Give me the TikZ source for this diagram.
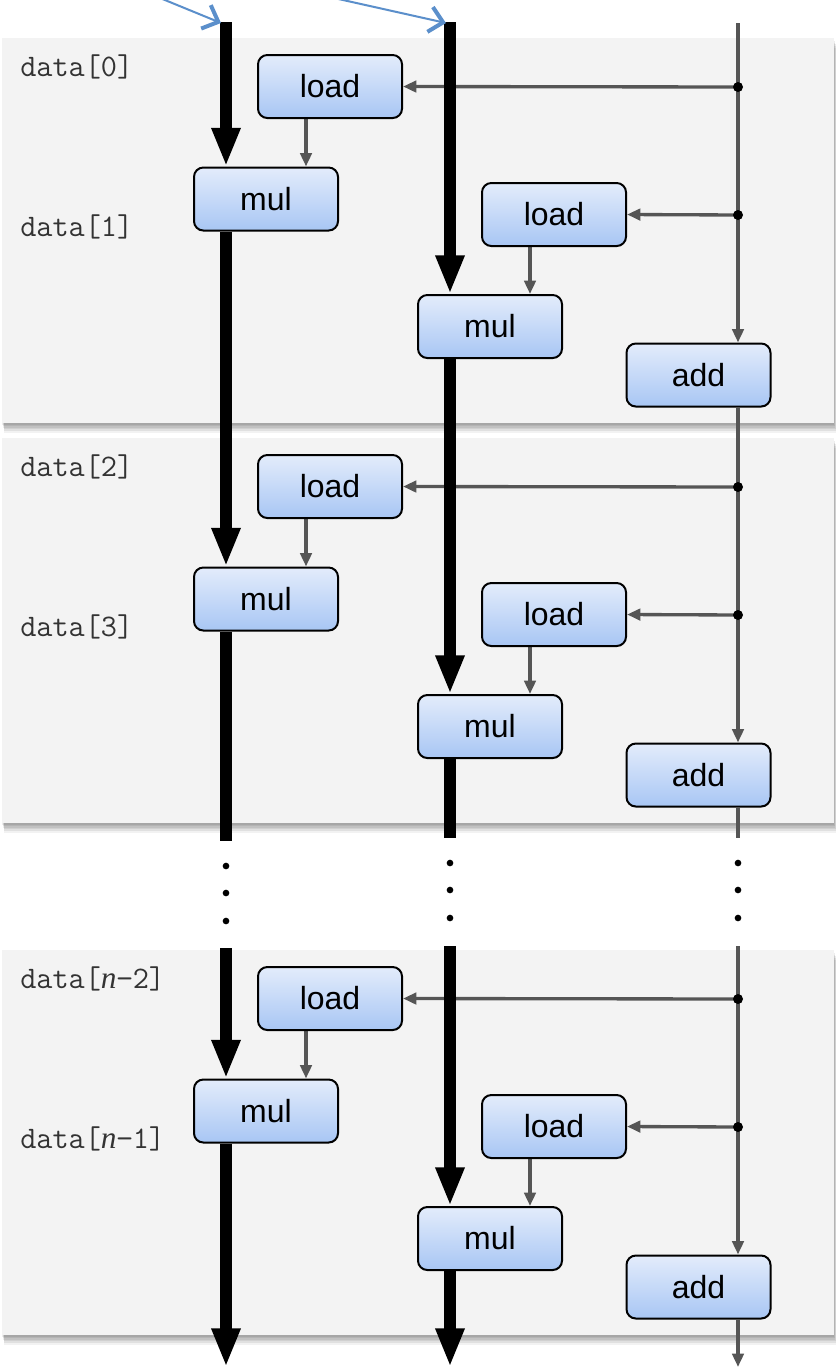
\documentclass[tikz,border=0pt]{standalone}
\usepackage{fontspec}
\setmainfont{Liberation Sans}
\newfontfamily\serifit{Liberation Serif}
\usetikzlibrary{arrows.meta}
\pgfdeclarelayer{bg}
\pgfdeclarelayer{thin}
\pgfdeclarelayer{thick}
\pgfsetlayers{bg,thin,thick,main}
\definecolor{panelbg}{HTML}{F3F3F3}
\definecolor{boxtop}{HTML}{E3ECFB}
\definecolor{boxbot}{HTML}{A8C6F4}
\definecolor{linegray}{HTML}{555555}
\definecolor{bluec}{HTML}{5B8FCB}
\definecolor{labelgray}{HTML}{333333}
\newcommand\varnn{{\serifit\itshape n}}
\begin{document}
\begin{tikzpicture}[x=0.75pt,y=-0.75pt,
  panel/.style={rectangle, inner sep=0pt, minimum width=624pt, minimum height=288.75pt, fill=panelbg,
    preaction={fill=black,opacity=0.07,transform canvas={shift={(0.3pt,-1.2pt)}}},
    preaction={fill=black,opacity=0.07,transform canvas={shift={(0.6pt,-2.4pt)}}},
    preaction={fill=black,opacity=0.07,transform canvas={shift={(0.9pt,-3.6pt)}}},
    preaction={fill=black,opacity=0.07,transform canvas={shift={(1.2pt,-4.8pt)}}},
    preaction={fill=black,opacity=0.07,transform canvas={shift={(1.5pt,-6pt)}}},
    preaction={fill=black,opacity=0.05,transform canvas={shift={(1.8pt,-7.2pt)}}}},
  opbox/.style={draw=black, line width=1.5pt, rounded corners=7pt, top color=boxtop, bottom color=boxbot,
    minimum width=108pt, minimum height=47.25pt, inner sep=0pt, font=\fontsize{24}{28}\selectfont},
  datalabel/.style={font=\ttfamily\fontsize{23.5}{28}\selectfont, text=labelgray, anchor=base west, inner sep=0pt},
  thickline/.style={draw=black, line width=9pt},
  thickarr/.style={thickline, -{Triangle[width=20pt,length=29pt]}},
  graylink/.style={draw=linegray, line width=2.5pt},
  grayarr/.style={graylink, -{Triangle[width=8.5pt,length=10pt]}},
  junc/.style={circle, fill=black, inner sep=0pt, minimum size=7.5pt},
  gapdot/.style={circle, fill=black, inner sep=0pt, minimum size=5pt},
  bluearr/.style={draw=bluec, line width=1.5pt, -{Straight Barb[length=10pt,width=19pt,line width=3pt]}}
]
\useasboundingbox (0,0) rectangle (836,1372);

% column x positions
\coordinate (c1) at (226,0);
\coordinate (c2) at (450,0);
\coordinate (c3) at (738,0);
\coordinate (xa) at (306,0);
\coordinate (xb) at (530,0);

% panels
\begin{pgfonlayer}{bg}
\fill[white] (0,0) rectangle (836,1372);
\node[panel] (p1) at (418,230.5) {};
\node[panel] (p2) at (418,630.5) {};
\node[panel] (p3) at (418,1142.5) {};
\end{pgfonlayer}

% boxes and labels
\foreach \i/\o/\la/\lb in {1/0/0/1, 2/400/2/3, 3/912/{\varnn{}−2}/{\varnn{}−1}}{
  \node[opbox] (la\i) at (330,86.5+\o) {load};
  \node[opbox] (ma\i) at (266,199+\o) {mul};
  \node[opbox] (lb\i) at (554,214.5+\o) {load};
  \node[opbox] (mb\i) at (490,326.5+\o) {mul};
  \node[opbox] (ad\i) at (698.5,375+\o) {add};
  \node[datalabel] (da\i) at (20,76+\o) {data[\la]};
  \node[datalabel] (db\i) at (20,236+\o) {data[\lb]};
  \node[junc] (ja\i) at (738,87+\o) {};
  \node[junc] (jb\i) at (738,215+\o) {};
  \begin{pgfonlayer}{thin}
    \draw[grayarr] (ja\i.center) -- (la\i.east);
    \draw[grayarr] (jb\i.center) -- (lb\i.east);
    \draw[grayarr] (la\i.south -| xa) -- (ma\i.north -| xa);
    \draw[grayarr] (lb\i.south -| xb) -- (mb\i.north -| xb);
  \end{pgfonlayer}
}

% free ends
\coordinate (c1top) at (226,22);
\coordinate (c2top) at (450,22);
\coordinate (c3top) at (738,23);
\coordinate (c1gA) at (226,841);
\coordinate (c2gA) at (450,838);
\coordinate (c3gA) at (738,838);
\coordinate (c1gB) at (226,948);
\coordinate (c2gB) at (450,946);
\coordinate (c3gB) at (738,946);
\coordinate (c1end) at (226,1367);
\coordinate (c2end) at (450,1367);
\coordinate (c3end) at (738,1367);

\begin{pgfonlayer}{thick}
\draw[thickarr] (c1top) -- (ma1.north -| c1);
\draw[thickarr] (ma1.south -| c1) -- (ma2.north -| c1);
\draw[thickline] (ma2.south -| c1) -- (c1gA);
\draw[thickarr] (c1gB) -- (ma3.north -| c1);
\draw[thickarr] (ma3.south -| c1) -- (c1end);
\draw[thickarr] (c2top) -- (mb1.north -| c2);
\draw[thickarr] (mb1.south -| c2) -- (mb2.north -| c2);
\draw[thickline] (mb2.south -| c2) -- (c2gA);
\draw[thickarr] (c2gB) -- (mb3.north -| c2);
\draw[thickarr] (mb3.south -| c2) -- (c2end);
\end{pgfonlayer}

\begin{pgfonlayer}{thin}
\draw[grayarr] (c3top) -- (ad1.north -| c3);
\draw[grayarr] (ad1.south -| c3) -- (ad2.north -| c3);
\draw[graylink] (ad2.south -| c3) -- (c3gA);
\draw[grayarr] (c3gB) -- (ad3.north -| c3);
\draw[grayarr] (ad3.south -| c3) -- (c3end);
\end{pgfonlayer}

% gap dots
\foreach \y [count=\k] in {866,893,921}{\node[gapdot] (g1\k) at (226,\y) {};}
\foreach \y [count=\k] in {863,890,918}{\node[gapdot] (g2\k) at (450,\y) {}; \node[gapdot] (g3\k) at (738,\y) {};}

% blue incoming arrows
\coordinate (b1s) at (160,-2);
\coordinate (b1e) at (221,23);
\coordinate (b2s) at (334,-2);
\coordinate (b2e) at (446,23);
\draw[bluearr] (b1s) -- (b1e);
\draw[bluearr] (b2s) -- (b2e);
\end{tikzpicture}
\end{document}
